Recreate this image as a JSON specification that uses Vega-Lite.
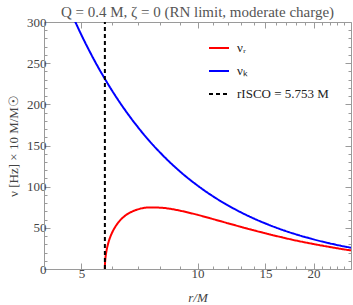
{
  "$schema": "https://vega.github.io/schema/vega-lite/v6.json",
  "width": 307,
  "height": 247,
  "autosize": {"type": "none"},
  "padding": {"left": 44, "top": 22, "right": 2, "bottom": 36},
  "background": "white",
  "title": {"text": "Q = 0.4 M,  ζ = 0 (RN limit, moderate charge)", "font": "Liberation Serif", "fontSize": 15, "fontWeight": "normal", "color": "#555555", "anchor": "middle", "frame": "group", "offset": -4},
  "config": {
    "view": {"stroke": null},
    "axis": {"domainColor": "#9a9a9a", "tickColor": "#9a9a9a", "labelColor": "#444444", "labelFont": "Liberation Serif", "labelFontSize": 13, "titleFont": "Liberation Serif", "titleFontSize": 13, "titleColor": "#444444", "titleFontWeight": "normal", "grid": false, "labelOverlap": false, "labelFlush": false},
    "legend": {"orient": "none", "legendX": 164, "legendY": 15, "title": null, "labelFont": "Liberation Serif", "labelFontSize": 13, "labelColor": "#222222", "symbolSize": 400, "symbolStrokeWidth": 2, "symbolType": "stroke", "rowPadding": 5, "padding": 0, "labelOffset": 7}
  },
  "datasets": {
    "curves": [
      {"r": 4.8, "nu": 302.1, "series": "νₖ"},
      {"r": 5, "nu": 284.3, "series": "νₖ"},
      {"r": 5.25, "nu": 264.5, "series": "νₖ"},
      {"r": 5.5, "nu": 246.8, "series": "νₖ"},
      {"r": 5.753, "nu": 230.9, "series": "νₖ"},
      {"r": 6, "nu": 216.9, "series": "νₖ"},
      {"r": 6.5, "nu": 192.6, "series": "νₖ"},
      {"r": 7, "nu": 172.5, "series": "νₖ"},
      {"r": 7.5, "nu": 155.6, "series": "νₖ"},
      {"r": 8, "nu": 141.4, "series": "νₖ"},
      {"r": 9, "nu": 118.6, "series": "νₖ"},
      {"r": 10, "nu": 101.4, "series": "νₖ"},
      {"r": 11, "nu": 87.9, "series": "νₖ"},
      {"r": 12, "nu": 77.2, "series": "νₖ"},
      {"r": 13, "nu": 68.5, "series": "νₖ"},
      {"r": 14, "nu": 61.3, "series": "νₖ"},
      {"r": 15, "nu": 55.3, "series": "νₖ"},
      {"r": 16, "nu": 50.2, "series": "νₖ"},
      {"r": 18, "nu": 42.1, "series": "νₖ"},
      {"r": 20, "nu": 36.0, "series": "νₖ"},
      {"r": 22, "nu": 31.2, "series": "νₖ"},
      {"r": 24, "nu": 27.4, "series": "νₖ"},
      {"r": 25, "nu": 25.8, "series": "νₖ"},
      {"r": 5.753, "nu": 0, "series": "νᵣ"},
      {"r": 5.755, "nu": 4.5, "series": "νᵣ"},
      {"r": 5.76, "nu": 8.1, "series": "νᵣ"},
      {"r": 5.77, "nu": 12.5, "series": "νᵣ"},
      {"r": 5.78, "nu": 15.6, "series": "νᵣ"},
      {"r": 5.8, "nu": 20.4, "series": "νᵣ"},
      {"r": 5.85, "nu": 28.8, "series": "νᵣ"},
      {"r": 5.9, "nu": 34.9, "series": "νᵣ"},
      {"r": 6, "nu": 43.7, "series": "νᵣ"},
      {"r": 6.1, "nu": 50.1, "series": "νᵣ"},
      {"r": 6.25, "nu": 57.2, "series": "νᵣ"},
      {"r": 6.5, "nu": 64.9, "series": "νᵣ"},
      {"r": 6.75, "nu": 69.5, "series": "νᵣ"},
      {"r": 7, "nu": 72.4, "series": "νᵣ"},
      {"r": 7.5, "nu": 74.7, "series": "νᵣ"},
      {"r": 8, "nu": 74.5, "series": "νᵣ"},
      {"r": 8.5, "nu": 73.1, "series": "νᵣ"},
      {"r": 9, "nu": 70.9, "series": "νᵣ"},
      {"r": 10, "nu": 65.8, "series": "νᵣ"},
      {"r": 11, "nu": 60.5, "series": "νᵣ"},
      {"r": 12, "nu": 55.5, "series": "νᵣ"},
      {"r": 13, "nu": 51.0, "series": "νᵣ"},
      {"r": 14, "nu": 46.9, "series": "νᵣ"},
      {"r": 15, "nu": 43.3, "series": "νᵣ"},
      {"r": 16, "nu": 40.1, "series": "νᵣ"},
      {"r": 18, "nu": 34.6, "series": "νᵣ"},
      {"r": 20, "nu": 30.3, "series": "νᵣ"},
      {"r": 22, "nu": 26.8, "series": "νᵣ"},
      {"r": 24, "nu": 23.8, "series": "νᵣ"},
      {"r": 25, "nu": 22.6, "series": "νᵣ"}
    ],
    "isco": [
      {"r": 5.753, "lo": 0, "hi": 300, "series": "rISCO = 5.753 M"}
    ]
  },
  "layer": [
    {
      "data": {"name": "curves"},
      "mark": {"type": "line", "strokeWidth": 2, "clip": true, "interpolate": "monotone"},
      "encoding": {
        "x": {"field": "r", "type": "quantitative", "scale": {"type": "log", "domain": [4, 25], "nice": false},
          "axis": {"orient": "bottom", "values": [5,6,7,8,9,10,11,12,13,14,15,16,17,18,19,20,21,22,23,24], "format": "d",
            "labelExpr": "indexof([5,10,15,20], datum.value) >= 0 ? datum.label : ''",
            "tickSize": {"condition": {"test": "indexof([5,10,15,20], datum.value) >= 0", "value": -6}, "value": -3},
            "labelPadding": 4, "title": "r/M", "titleFontStyle": "italic", "titlePadding": 8}},
        "y": {"field": "nu", "type": "quantitative", "scale": {"domain": [0, 300], "nice": false},
          "axis": {"orient": "left", "values": [0,10,20,30,40,50,60,70,80,90,100,110,120,130,140,150,160,170,180,190,200,210,220,230,240,250,260,270,280,290,300],
            "labelExpr": "datum.value % 50 === 0 ? datum.label : ''",
            "tickSize": {"condition": {"test": "datum.value % 50 === 0", "value": -6}, "value": -3},
            "labelPadding": 4, "title": "ν [Hz] × 10 M/M☉", "titlePadding": 6}},
        "color": {"field": "series", "type": "nominal", "scale": {"domain": ["νᵣ", "νₖ", "rISCO = 5.753 M"], "range": ["#ff0000", "#0000ff", "#000000"]}},
        "strokeDash": {"field": "series", "type": "nominal", "scale": {"domain": ["νᵣ", "νₖ", "rISCO = 5.753 M"], "range": [[1, 0], [1, 0], [4, 3]]}}
      }
    },
    {
      "data": {"name": "isco"},
      "mark": {"type": "rule", "strokeWidth": 2},
      "encoding": {
        "x": {"field": "r", "type": "quantitative",
          "axis": {"orient": "top", "values": [5,6,7,8,9,10,11,12,13,14,15,16,17,18,19,20,21,22,23,24], "labels": false, "title": null,
            "tickSize": {"condition": {"test": "indexof([5,10,15,20], datum.value) >= 0", "value": -6}, "value": -3}}},
        "y": {"field": "lo", "type": "quantitative",
          "axis": {"orient": "right", "values": [0,10,20,30,40,50,60,70,80,90,100,110,120,130,140,150,160,170,180,190,200,210,220,230,240,250,260,270,280,290,300], "labels": false, "title": null,
            "tickSize": {"condition": {"test": "datum.value % 50 === 0", "value": -6}, "value": -3}}},
        "y2": {"field": "hi"},
        "color": {"field": "series", "type": "nominal"},
        "strokeDash": {"field": "series", "type": "nominal"}
      }
    }
  ],
  "resolve": {"scale": {"x": "shared", "y": "shared"}, "axis": {"x": "independent", "y": "independent"}}
}
